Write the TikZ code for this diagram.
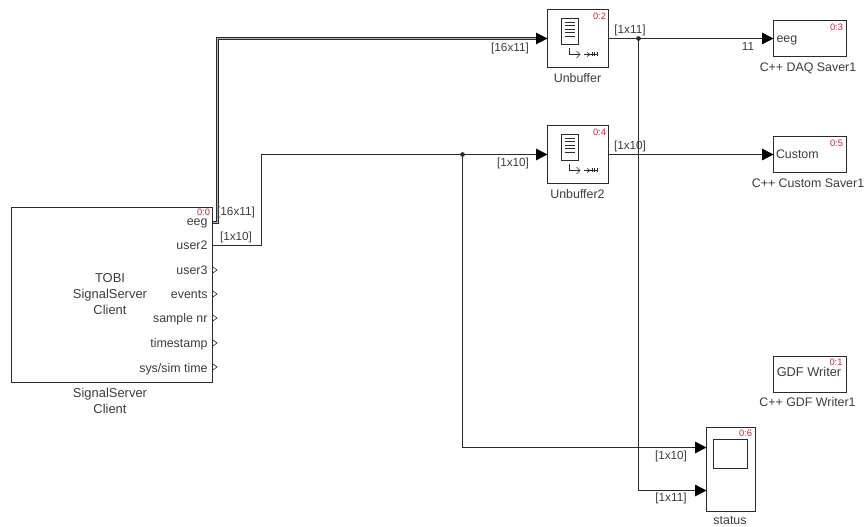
\documentclass[tikz,border=0pt]{standalone}
\usepackage{fontspec}
\setmainfont{Liberation Sans}
\usetikzlibrary{arrows.meta}
\definecolor{ink}{HTML}{2A2A2A}
\definecolor{tagred}{HTML}{C8283C}
\definecolor{lab}{HTML}{3C3C3C}
\tikzset{
  px/.style={x=0.75pt,y=-0.75pt},
  blockbox/.style={draw=ink,line width=1.05pt,fill=white,outer sep=0pt,inner sep=0pt},
  wire/.style={draw=ink,line width=1.05pt},
  sig/.style={wire,-{Triangle[length=8.6pt,width=8.6pt,color=black]}},
  bus/.style={draw=ink,line width=0.8pt,double=gray!60,double distance=0.8pt,-{Triangle[length=8.6pt,width=8.6pt,color=black]}},
  txt/.style={inner sep=0pt,outer sep=0pt,text=lab,font=\fontsize{9.3}{11}\selectfont},
  bigtxt/.style={txt,align=center,font=\fontsize{9.7}{12}\selectfont},
  sigl/.style={txt,anchor=base,font=\fontsize{8.8}{11}\selectfont},
  tag/.style={inner sep=0pt,outer sep=0pt,anchor=base east,text=tagred,font=\fontsize{7}{8}\selectfont},
  dot/.style={circle,fill=ink,inner sep=0pt,minimum size=3.5pt},
  iconline/.style={draw=ink,line width=0.85pt},
  chev/.style={draw=ink,line width=0.45pt},
}
\begin{document}
\begin{tikzpicture}[px]
\useasboundingbox (0,0) rectangle (865,527);
\fill[white] (0,0) rectangle (865,527);

% blocks
\node[blockbox,minimum width=150.75pt,minimum height=131.25pt] (client) at (112,295) {};
\node[blockbox,minimum width=45.75pt,minimum height=43.5pt] (ub1) at (578,38.5) {};
\node[blockbox,minimum width=45.75pt,minimum height=43.5pt] (ub2) at (578,154.5) {};
\node[blockbox,minimum width=54.75pt,minimum height=27pt] (daq) at (810,38.5) {};
\node[blockbox,minimum width=54.75pt,minimum height=27pt] (custom) at (810,154.5) {};
\node[blockbox,minimum width=54.75pt,minimum height=27pt] (gdf) at (810,374.5) {};
\node[blockbox,minimum width=36.75pt,minimum height=63pt] (status) at (731,469.5) {};
\node[draw=ink,line width=1.05pt,minimum width=25.5pt,minimum height=21.75pt,inner sep=0pt,outer sep=0pt] (scope) at (730.5,454) {};

% block texts
\node[bigtxt] (clienttxt) at (110,294.4) {TOBI\\SignalServer\\Client};
\node[txt,anchor=base west] (daqtxt) at (776.5,43) {eeg};
\node[txt,anchor=base west] (customtxt) at (776,159) {Custom};
\node[txt,anchor=base] (gdftxt) at (809,377) {\fontsize{9.6}{11}\selectfont GDF Writer};

% block captions
\node[bigtxt] (clientcap) at (110,400.9) {SignalServer\\Client};
\node[txt,anchor=base] (ub1cap) at (577.5,83) {Unbuffer};
\node[txt,anchor=base] (ub2cap) at (577.5,199) {Unbuffer2};
\node[txt,anchor=base] (daqcap) at (808,72) {C++ DAQ Saver1};
\node[txt,anchor=base] (customcap) at (808,188) {C++ Custom Saver1};
\node[txt,anchor=base] (gdfcap) at (807.5,407) {C++ GDF Writer1};
\node[txt,anchor=base] (statuscap) at (730,525) {status};

% red tags
\node[tag] (t0) at (210,216) {0:0};
\node[tag] (t2) at (606,20) {0:2};
\node[tag] (t4) at (606,136) {0:4};
\node[tag] (t3) at (843,31) {0:3};
\node[tag] (t5) at (843,147) {0:5};
\node[tag] (t1) at (842.5,366) {0:1};
\node[tag] (t6) at (752,437) {0:6};

% client ports
\foreach \n/\t/\y in {p1/eeg/226,p2/user2/250,p3/user3/275,p4/events/299,p5/sample nr/323,p6/timestamp/348,p7/sys\slash sim time/372.5}{
  \node[txt,anchor=base east] (\n) at (207.5,\y) {\t};
}
\foreach \y in {270,294,318,343,367}{
  \draw[chev] (213,\y-3) -- (217,\y) -- (213,\y+3);
}

% Unbuffer icons
\foreach \o/\s in {0/a,116/b}{
  \begin{scope}[yshift=-\o*0.75pt]
    \draw[iconline,fill=white] (561.5,18.5) rectangle (578.5,44.5);
    \foreach \y in {22.5,25.5,29,32.5,36.5}{\draw[draw=ink,line width=0.6pt] (564.5,\y) -- (574.5,\y);}
    \draw[draw=ink,line width=0.6pt] (569.5,48) -- (569.5,54.5) -- (580,54.5);
    \draw[draw=ink,line width=0.5pt] (576.5,51) -- (580,54.5) -- (576.5,58);
    \draw[draw=ink,line width=0.6pt] (584,54.5) -- (598,54.5);
    \draw[draw=ink,line width=0.5pt] (587,52.5) -- (590,54.5) -- (587,56.5);
    \foreach \x in {592,594.5,597}{\draw[draw=ink,line width=0.6pt] (\x,52.5) -- (\x,56.5);}
  \end{scope}
}

% named ends and junctions
\coordinate (eegout) at (client.east |- 0,222.5);
\coordinate (user2out) at (client.east |- 0,245.5);
\coordinate (s1) at (status.west |- 0,447.5);
\coordinate (s2) at (status.west |- 0,490.5);
\node[dot] (j1) at (638.5,38.5) {};
\node[dot] (j2) at (462.5,154.5) {};

% connectors
\draw[bus] (eegout) -- ++(5,0) |- (ub1.west);
\draw[wire] (user2out) -- ++(49,0) |- (j2.center);
\draw[sig] (j2.center) -- (ub2.west);
\draw[wire] (ub1.east) -- (j1.center);
\draw[sig] (j1.center) -- (daq.west);
\draw[sig] (ub2.east) -- (custom.west);
\draw[sig] (j2.center) |- (s1);
\draw[sig] (j1.center) |- (s2);

% signal labels
\node[sigl] (l1) at (236,215.5) {[16x11]};
\node[sigl] (l2) at (236,240.5) {[1x10]};
\node[sigl] (l3) at (510,51.5) {[16x11]};
\node[sigl] (l4) at (513,166.5) {[1x10]};
\node[sigl] (l5) at (630,33.5) {[1x11]};
\node[sigl] (l6) at (630,150) {[1x10]};
\node[sigl] (l7) at (748,50.5) {11};
\node[sigl] (l8) at (671,459.5) {[1x10]};
\node[sigl] (l9) at (671,502) {[1x11]};
\end{tikzpicture}
\end{document}
